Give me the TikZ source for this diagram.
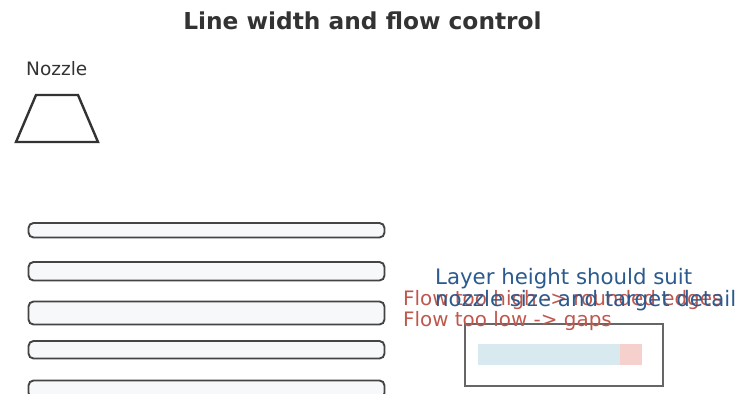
\documentclass[tikz,border=0pt]{standalone}
\usepackage{fontspec}
\setmainfont{DejaVu Sans}
\definecolor{ink}{HTML}{333333}
\definecolor{barline}{HTML}{444444}
\definecolor{barfill}{HTML}{F7F8FA}
\definecolor{boxline}{HTML}{666666}
\definecolor{blueT}{HTML}{2B5A8E}
\definecolor{redT}{HTML}{C0574E}
\definecolor{lblue}{HTML}{D8EAF0}
\definecolor{lpink}{HTML}{F6D0CD}
\tikzset{
  bead/.style={draw=barline, line width=1.9pt, fill=barfill, rounded corners=5pt},
  txt/.style={inner sep=0pt, anchor=base},
}
\begin{document}
\begin{tikzpicture}[x=1pt,y=-1pt]
\useasboundingbox (0,0) rectangle (740,394);
\node[txt, font=\bfseries\fontsize{23.3}{27}\selectfont, text=ink] (title) at (362.5,29) {Line width and flow control};
\node[txt, anchor=base west, font=\fontsize{18.5}{22}\selectfont, text=ink] (nozlabel) at (26,75) {Nozzle};
\draw[ink, line width=2.4pt, line join=miter] (36,95) -- (78,95) -- (98,142) -- (16,142) -- cycle;
\draw[bead] (28.5,223) rectangle (384.5,237.5);
\draw[bead] (28.5,262) rectangle (384.5,280.5);
\draw[bead] (28.5,301.5) rectangle (384.5,324.5);
\draw[bead] (28.5,341) rectangle (384.5,358.5);
\draw[bead] (28.5,380.5) rectangle (384.5,398);
\node[draw=boxline, line width=2pt, minimum width=198pt, minimum height=62pt, inner sep=0pt] (box) at (563.5,354.5) {};
\fill[lblue] (477.5,343.5) rectangle (620,365);
\fill[lpink] (620,343.5) rectangle (642,365);
\node[txt, anchor=base west, font=\fontsize{19.9}{23}\selectfont, text=redT] (hi) at (403,305) {Flow too high -> rounded edges};
\node[txt, anchor=base west, font=\fontsize{19.9}{23}\selectfont, text=redT] (lo) at (403,326) {Flow too low -> gaps};
\node[txt, anchor=base west, font=\fontsize{21.3}{25}\selectfont, text=blueT] (l1) at (435,284) {Layer height should suit};
\node[txt, anchor=base west, font=\fontsize{21.3}{25}\selectfont, text=blueT] (l2) at (435,306) {nozzle size and target detail};
\end{tikzpicture}
\end{document}
